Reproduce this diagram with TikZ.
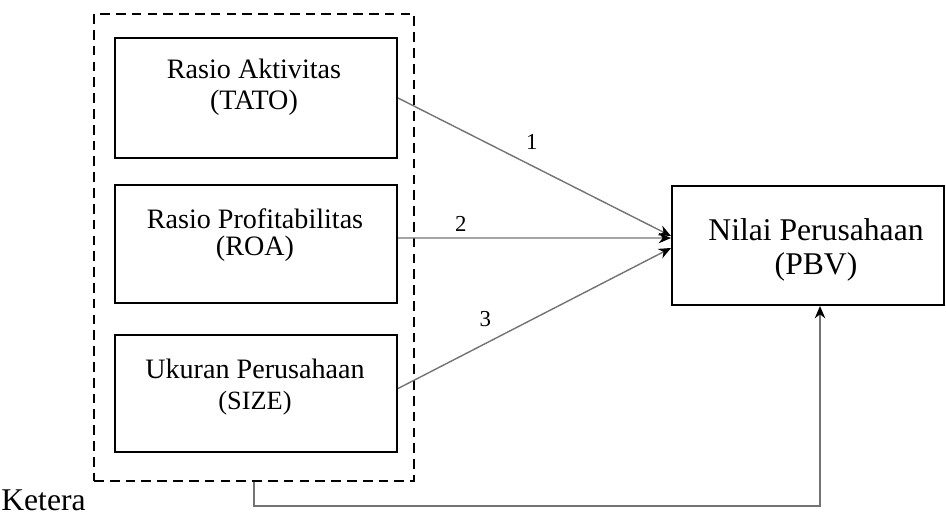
\documentclass[tikz,border=0pt]{standalone}
\usepackage{fontspec}
\setmainfont{Liberation Serif}
\usetikzlibrary{arrows.meta}
\begin{document}
\begin{tikzpicture}[x=0.02cm, y=-0.02cm,
			varbox/.style = {draw, line width=1.2pt, minimum width=5.64cm},
			vartext/.style = {align=center, font=\fontsize{16}{17.5}\selectfont},
			grpbox/.style = {draw, line width=1.2pt, dash pattern=on 5.5pt off 3.5pt, minimum width=6.4cm, minimum height=9.34cm},
			link/.style = {draw=black!55, line width=0.8pt, -{Stealth[black, length=7pt, width=6pt]}},
			num/.style = {font=\fontsize{13}{15}\selectfont}]
			
			\useasboundingbox (0,0) rectangle (946,518);
			
			\node[grpbox] (grp) at (254,247.5) {};
			\node[varbox, minimum height=2.4cm] (tato) at (256,98) {};
			\node[varbox, minimum height=2.36cm] (roa) at (256,244) {};
			\node[varbox, minimum height=2.34cm] (size) at (256,393.5) {};
			\node[vartext] (tatotxt) at (254,87) {Rasio Aktivitas\\(TATO)};
			\node[vartext, font=\fontsize{16}{15}\selectfont] (roatxt) at (255,235) {Rasio Profitabilitas\\(ROA)};
			\node[vartext] (sizetxt) at (255,387) {Ukuran Perusahaan\\{\fontsize{15}{15}\selectfont (SIZE)}};
			\node[draw, line width=1.2pt, minimum width=5.44cm, minimum height=2.38cm] (pbv) at (808,245.5) {};
			\node[align=center, font=\fontsize{18}{19.5}\selectfont] (pbvtxt) at (816,250) {Nilai Perusahaan\\(PBV)};
			
			% hubungan parsial
			\draw[link] (tato.east) -- ([yshift=0.19cm]pbv.west) node[num, pos=0.49, above=5.5pt] {1};
			\draw[link] ([yshift=0.12cm]roa.east) -- ([yshift=0.15cm]pbv.west) node[num, pos=0.23, above=0pt] {2};
			\draw[link] ([yshift=0.1cm]size.east) -- ([yshift=-0.05cm]pbv.west) node[num, pos=0.32, above=6pt] {3};
			
			% hubungan simultan
			\draw[link] (grp.south) -- ++(0,24) -| ([xshift=0.24cm]pbv.south);
			
			\node[anchor=base west, inner sep=0pt, font=\fontsize{18}{20}\selectfont] (ket) at (1,510) {Ketera};
\end{tikzpicture}
\end{document}
